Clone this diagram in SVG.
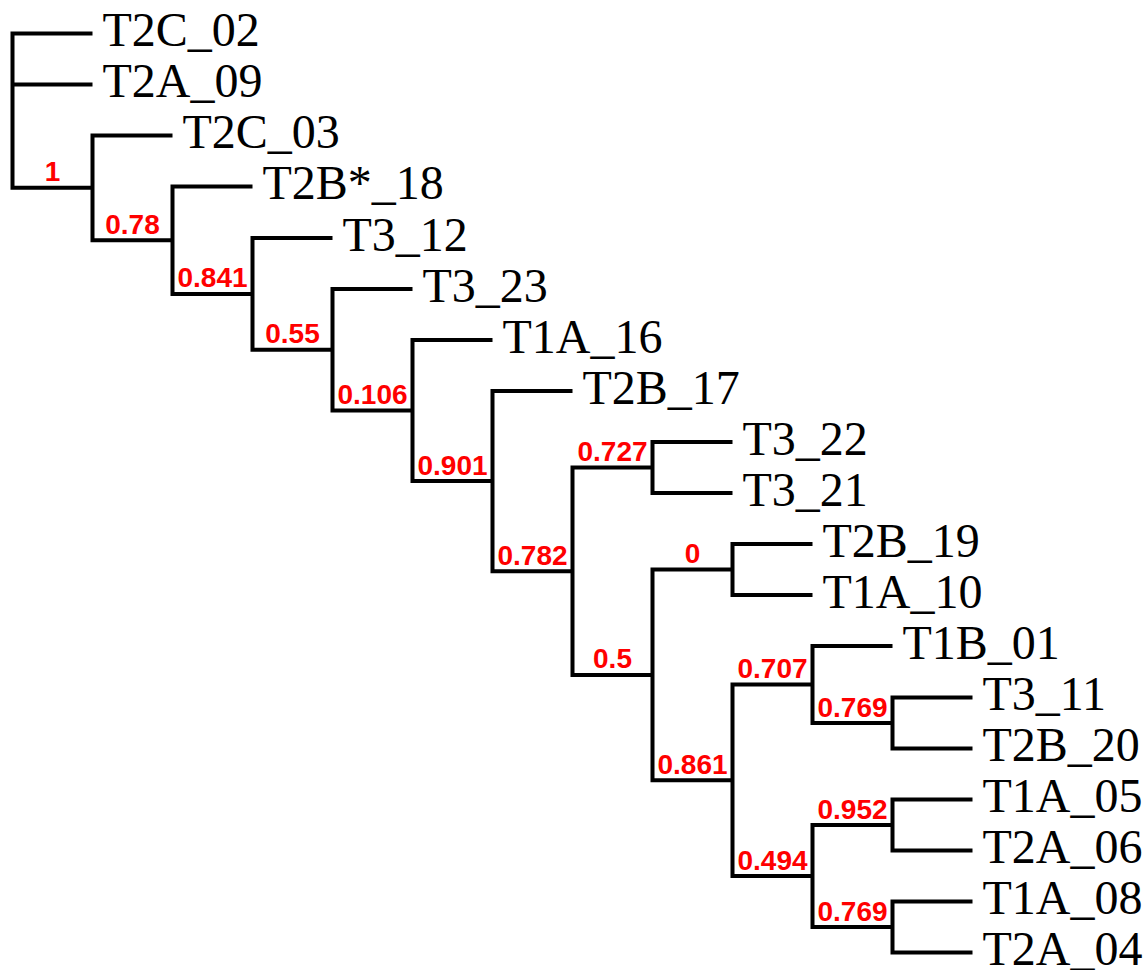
<svg xmlns="http://www.w3.org/2000/svg" width="1148" height="970" viewBox="0 0 1148 970">
  <style>
    .br { fill: none; stroke: #000; stroke-width: 4; stroke-linejoin: miter; stroke-linecap: butt; }
    .leaf { font-family: "Liberation Serif", "Times New Roman", serif; font-size: 48px; fill: #000; }
    .sup { font-family: "Liberation Sans", Arial, sans-serif; font-weight: bold; font-size: 28px; fill: #ff0000; text-anchor: middle; }
  </style>
  <rect width="1148" height="970" fill="#fff"/>

  <!-- branches: each internal node is a vertical bar with horizontals out to its children -->
  <g id="connectors">
    <path class="br" d="M92.5 33.5 H12.5 V187.85 H92.5"/>
    <path class="br" d="M12.5 84.5 H92.5"/>
    <path class="br" d="M172.5 135.5 H92.5 V240.2 H172.5"/>
    <path class="br" d="M252.5 186.5 H172.5 V293.9 H252.5"/>
    <path class="br" d="M332.5 238 H252.5 V349.8 H332.5"/>
    <path class="br" d="M412.5 289 H332.5 V410.55 H412.5"/>
    <path class="br" d="M492.5 340 H412.5 V481.1 H492.5"/>
    <path class="br" d="M572.5 391 H492.5 V571.2 H572.5"/>
    <path class="br" d="M652.5 467.5 H572.5 V674.9 H652.5"/>
    <path class="br" d="M732.5 442 H652.5 V493 H732.5"/>
    <path class="br" d="M732.5 569.5 H652.5 V780.25 H732.5"/>
    <path class="br" d="M812.5 544 H732.5 V595 H812.5"/>
    <path class="br" d="M812.5 684.5 H732.5 V876 H812.5"/>
    <path class="br" d="M892.5 646 H812.5 V723 H892.5"/>
    <path class="br" d="M972.5 697.5 H892.5 V748.5 H972.5"/>
    <path class="br" d="M892.5 825 H812.5 V927 H892.5"/>
    <path class="br" d="M972.5 799.5 H892.5 V850.5 H972.5"/>
    <path class="br" d="M972.5 901.5 H892.5 V952.5 H972.5"/>
  </g>

  <!-- support values on internal branches -->
  <g id="node-B"><text class="sup" x="52.5" y="181.3">1</text></g>
  <g id="node-C"><text class="sup" x="132.5" y="233.7">0.78</text></g>
  <g id="node-D"><text class="sup" x="212.5" y="287.4">0.841</text></g>
  <g id="node-E"><text class="sup" x="292.5" y="343.3">0.55</text></g>
  <g id="node-F"><text class="sup" x="372.5" y="404">0.106</text></g>
  <g id="node-G"><text class="sup" x="452.5" y="474.6">0.901</text></g>
  <g id="node-H"><text class="sup" x="532.5" y="564.7">0.782</text></g>
  <g id="node-I"><text class="sup" x="612.5" y="461">0.727</text></g>
  <g id="node-J"><text class="sup" x="612.5" y="668.4">0.5</text></g>
  <g id="node-K"><text class="sup" x="692.5" y="563">0</text></g>
  <g id="node-L"><text class="sup" x="692.5" y="773.75">0.861</text></g>
  <g id="node-M"><text class="sup" x="772.5" y="678">0.707</text></g>
  <g id="node-N"><text class="sup" x="772.5" y="869.5">0.494</text></g>
  <g id="node-O"><text class="sup" x="852.5" y="716.5">0.769</text></g>
  <g id="node-P"><text class="sup" x="852.5" y="818.5">0.952</text></g>
  <g id="node-Q"><text class="sup" x="852.5" y="920.5">0.769</text></g>

  <!-- tips -->
  <g id="leaf-T2C_02"><text class="leaf" x="102.5" y="46">T2C_02</text></g>
  <g id="leaf-T2A_09"><text class="leaf" x="102.5" y="97">T2A_09</text></g>
  <g id="leaf-T2C_03"><text class="leaf" x="182.5" y="148">T2C_03</text></g>
  <g id="leaf-T2B18"><text class="leaf" x="262.5" y="199">T2B*_18</text></g>
  <g id="leaf-T3_12"><text class="leaf" x="342.5" y="250.5">T3_12</text></g>
  <g id="leaf-T3_23"><text class="leaf" x="422.5" y="301.5">T3_23</text></g>
  <g id="leaf-T1A_16"><text class="leaf" x="502.5" y="352.5">T1A_16</text></g>
  <g id="leaf-T2B_17"><text class="leaf" x="582.5" y="403.5">T2B_17</text></g>
  <g id="leaf-T3_22"><text class="leaf" x="742.5" y="454.5">T3_22</text></g>
  <g id="leaf-T3_21"><text class="leaf" x="742.5" y="505.5">T3_21</text></g>
  <g id="leaf-T2B_19"><text class="leaf" x="822.5" y="556.5">T2B_19</text></g>
  <g id="leaf-T1A_10"><text class="leaf" x="822.5" y="607.5">T1A_10</text></g>
  <g id="leaf-T1B_01"><text class="leaf" x="902.5" y="658.5">T1B_01</text></g>
  <g id="leaf-T3_11"><text class="leaf" x="982.5" y="710">T3_11</text></g>
  <g id="leaf-T2B_20"><text class="leaf" x="982.5" y="761">T2B_20</text></g>
  <g id="leaf-T1A_05"><text class="leaf" x="982.5" y="812">T1A_05</text></g>
  <g id="leaf-T2A_06"><text class="leaf" x="982.5" y="863">T2A_06</text></g>
  <g id="leaf-T1A_08"><text class="leaf" x="982.5" y="914">T1A_08</text></g>
  <g id="leaf-T2A_04"><text class="leaf" x="982.5" y="965">T2A_04</text></g>
</svg>
